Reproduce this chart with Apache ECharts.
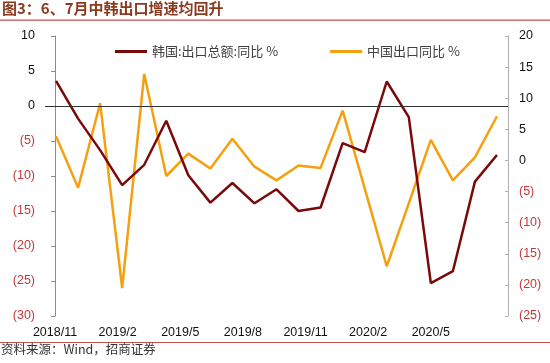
<!DOCTYPE html>
<html>
<head>
<meta charset="utf-8">
<script src="https://cdn.jsdelivr.net/npm/echarts@6/dist/echarts.min.js"></script>
<style>html,body{margin:0;padding:0;background:#fff;}#c{width:550px;height:363px;}</style>
</head>
<body>
<div id="c"></div>
<script>
var months = ['2018/11','2018/12','2019/1','2019/2','2019/3','2019/4','2019/5','2019/6','2019/7','2019/8','2019/9','2019/10','2019/11','2019/12','2020/1','2020/2','2020/3','2020/4','2020/5','2020/6','2020/7'];
var koreaExport = [3.6, -1.8, -6.3, -11.3, -8.4, -2.1, -9.9, -13.8, -11.0, -13.9, -11.9, -15.0, -14.5, -5.3, -6.6, 3.5, -1.6, -25.3, -23.6, -10.8, -7.0];
var chinaExport = [3.9, -4.4, 9.2, -20.5, 13.9, -2.5, 1.1, -1.3, 3.5, -1.0, -3.2, -0.8, -1.2, 8.0, -4.5, -17.0, -6.9, 3.3, -3.2, 0.5, 7.1];
var tickLabels = ['2018/11','2019/2','2019/5','2019/8','2019/11','2020/2','2020/5'];
var tickMonthIndex = [0, 3, 6, 9, 12, 15, 18];
var seriesNames = ['韩国:出口总额:同比 %', '中国出口同比 %'];

var chart = echarts.init(document.getElementById('c'));
function yfmt(v){
  if (v < 0) return '{n|(' + Math.abs(v) + ')}';
  return '{p|' + v + '}';
}
var yLabel = {
  fontSize: 12.5, fontFamily: 'Liberation Sans, Arial', margin: 10, formatter: yfmt,
  rich: { n: {color: '#C0393B', fontSize: 12.5, fontFamily: 'Liberation Sans, Arial'},
          p: {color: '#111', fontSize: 12.5, fontFamily: 'Liberation Sans, Arial'} }
};
chart.setOption({
  animation: false,
  backgroundColor: '#fff',
  graphic: [
    {type: 'text', left: 2, top: 1, style: {text: '图3：6、7月中韩出口增速均回升', fill: '#8B3A1E', font: 'bold 15px "Noto Sans CJK SC", sans-serif'}},
    {type: 'rect', shape: {x: 0, y: 19.5, width: 550, height: 1.2}, style: {fill: '#C0504D'}},
    {type: 'rect', shape: {x: 0, y: 342, width: 550, height: 1}, style: {fill: '#C0504D'}},
    {type: 'text', left: 1, top: 343, style: {text: '资料来源：Wind，招商证券', fill: '#333', font: '12.5px "Noto Sans CJK SC", sans-serif'}}
  ],
  legend: {
    top: 40, left: 110, itemGap: 52, itemWidth: 32, itemHeight: 3,
    icon: 'rect',
    textStyle: {fontSize: 13, color: '#404040', fontFamily: '"Noto Sans CJK SC", sans-serif'},
    data: seriesNames
  },
  grid: {left: 45, right: 42, top: 36, bottom: 47},
  xAxis: [
    {type: 'category', data: months, boundaryGap: true,
     axisLine: {show: false}, axisTick: {show: false}, axisLabel: {show: false}, splitLine: {show: false}},
    {type: 'value', position: 'bottom', min: -0.48, max: 21.7,
     axisLine: {show: false}, axisTick: {show: false}, splitLine: {show: false},
     axisLabel: {customValues: tickMonthIndex, margin: 10, fontSize: 12.5, color: '#111', fontFamily: 'Liberation Sans, Arial',
       formatter: function(v){ var k = tickMonthIndex.indexOf(Math.round(v)); return k >= 0 ? tickLabels[k] : ''; }}}
  ],
  yAxis: [
    {type: 'value', min: -30, max: 10, interval: 5, position: 'left',
     axisLine: {show: true, lineStyle: {color: '#8c8c8c'}},
     axisTick: {show: true, length: 4, lineStyle: {color: '#8c8c8c'}},
     splitLine: {show: false}, axisLabel: yLabel},
    {type: 'value', min: -25, max: 20, interval: 5, position: 'right',
     axisLine: {show: true, lineStyle: {color: '#b0b0b0'}},
     axisTick: {show: true, inside: true, length: 3, lineStyle: {color: '#b0b0b0'}},
     splitLine: {show: false}, axisLabel: Object.assign({}, yLabel, {margin: 11})}
  ],
  series: [
    {name: seriesNames[0], type: 'line', xAxisIndex: 0, yAxisIndex: 0, data: koreaExport,
     showSymbol: false, lineStyle: {color: '#7A0A0A', width: 2.5}, itemStyle: {color: '#7A0A0A'}, z: 3,
     markLine: {silent: true, symbol: 'none', label: {show: false},
       lineStyle: {color: '#333', width: 1, type: 'solid'}, data: [{yAxis: 0}]}},
    {name: seriesNames[1], type: 'line', xAxisIndex: 0, yAxisIndex: 1, data: chinaExport,
     showSymbol: false, lineStyle: {color: '#F5A00F', width: 2.5}, itemStyle: {color: '#F5A00F'}, z: 2}
  ]
});
</script>
</body>
</html>
